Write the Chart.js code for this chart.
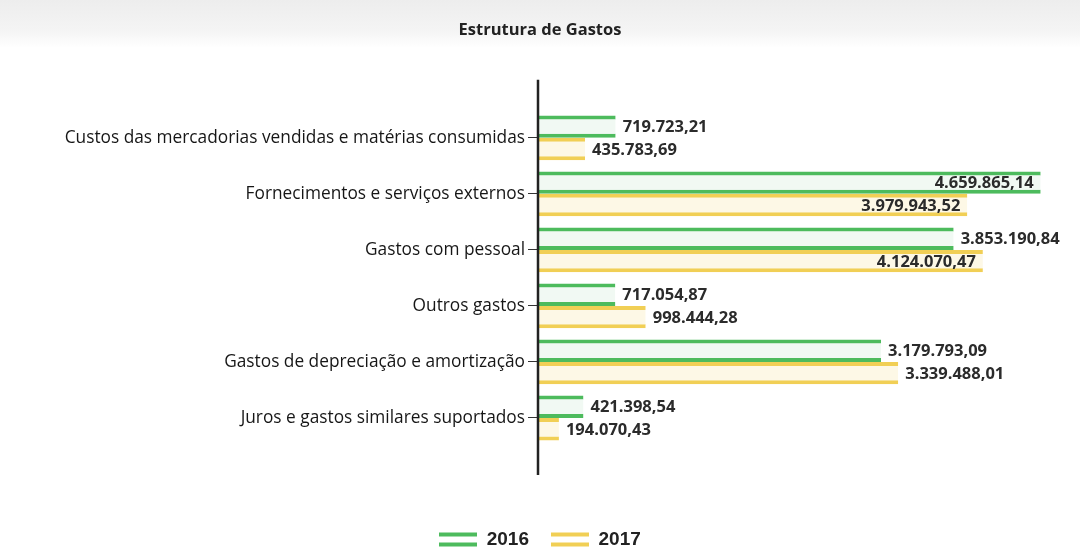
<!DOCTYPE html>
<html>
<head>
<meta charset="utf-8">
<script src="https://cdn.jsdelivr.net/npm/chart.js@4.4.1/dist/chart.umd.min.js"></script>
<style>
  body { margin: 0; background: linear-gradient(#ededed 0px, #f4f4f4 30px, #ffffff 48px); }
  #wrap { width: 1080px; height: 549px; position: relative; }
</style>
</head>
<body>
<div id="wrap"><canvas id="chart"></canvas></div>
<script>
// categories and series
const categories = [
    "Custos das mercadorias vendidas e matérias consumidas",
    "Fornecimentos e serviços externos",
    "Gastos com pessoal",
    "Outros gastos",
    "Gastos de depreciação e amortização",
    "Juros e gastos similares suportados"
];
const seriesNames = ["2016", "2017"];
const values2016 = [719723.21, 4659865.14, 3853190.84, 717054.87, 3179793.09, 421398.54];
const values2017 = [435783.69, 3979943.52, 4124070.47, 998444.28, 3339488.01, 194070.43];
const xMax = 4700000;

const green = "#4dbb5d", greenPale = "#f1f9f3";
const yellow = "#f1cf55", yellowPale = "#fdf8e6";

// pt format: 1.234.567,89
function fmt(v) {
    const parts = v.toFixed(2).split(".");
    return parts[0].replace(/\B(?=(\d{3})+(?!\d))/g, ".") + "," + parts[1];
}

// two-stripe legend marker
function stripeMarker(color) {
    const c = document.createElement("canvas");
    c.width = 38; c.height = 16;
    const g = c.getContext("2d");
    g.fillStyle = color;
    g.fillRect(0, 1, 38, 4);
    g.fillRect(0, 11, 38, 4);
    return c;
}

// long y axis line like the original
const axisLine = {
    id: "axisLine",
    afterDraw(chart) {
        const { ctx, chartArea } = chart;
        ctx.save();
        ctx.strokeStyle = "#222";
        ctx.lineWidth = 2.5;
        ctx.beginPath();
        ctx.moveTo(chartArea.left, chartArea.top - 30);
        ctx.lineTo(chartArea.left, chartArea.bottom + 29);
        ctx.stroke();
        ctx.restore();
    }
};

// values at the bar ends
const valueLabels = {
    id: "valueLabels",
    afterDatasetsDraw(chart) {
        const ctx = chart.ctx;
        ctx.save();
        ctx.font = "bold 16.5px 'Open Sans'";
        ctx.fillStyle = "#2b2b2b";
        ctx.textBaseline = "middle";
        chart.data.datasets.forEach((ds, di) => {
            chart.getDatasetMeta(di).data.forEach((bar, i) => {
                const v = ds.data[i];
                const txt = fmt(v);
                if (v > 3900000) {
                    ctx.textAlign = "right";
                    ctx.fillText(txt, bar.x - 7, bar.y + 1);
                } else {
                    ctx.textAlign = "left";
                    ctx.fillText(txt, bar.x + 7, bar.y + 1);
                }
            });
        });
        ctx.restore();
    }
};

new Chart(document.getElementById("chart"), {
    type: "bar",
    data: {
        labels: categories,
        datasets: [{
            label: seriesNames[0],
            data: values2016,
            backgroundColor: greenPale,
            borderColor: green,
            borderWidth: { top: 4, bottom: 4, left: 0, right: 0 },
            borderSkipped: false,
            pointStyle: stripeMarker(green)
        }, {
            label: seriesNames[1],
            data: values2017,
            backgroundColor: yellowPale,
            borderColor: yellow,
            borderWidth: { top: 4, bottom: 4, left: 0, right: 0 },
            borderSkipped: false,
            pointStyle: stripeMarker(yellow)
        }]
    },
    options: {
        indexAxis: "y",
        responsive: true,
        maintainAspectRatio: false,
        animation: false,
        layout: { padding: { left: 35, right: 35, top: 0, bottom: -10 } },
        datasets: { bar: { categoryPercentage: 0.8, barPercentage: 1.0 } },
        plugins: {
            title: {
                display: true,
                text: "Estrutura de Gastos",
                color: "#222",
                font: { family: "'Open Sans'", size: 16.5, weight: "bold" },
                padding: { top: 20, bottom: 70 }
            },
            legend: {
                position: "bottom",
                labels: {
                    usePointStyle: true,
                    pointStyleWidth: 38,
                    color: "#222",
                    padding: 22,
                    font: { family: "'Liberation Sans'", size: 19, weight: "bold" }
                }
            },
            tooltip: { enabled: false }
        },
        scales: {
            x: {
                min: 0,
                max: xMax,
                ticks: { display: false },
                grid: { display: false },
                border: { display: false },
                afterFit: s => { s.height = 62; }
            },
            y: {
                grid: { display: true, drawOnChartArea: false, offset: false, tickLength: 10, color: "#333", lineWidth: 1 },
                border: { display: false },
                ticks: {
                    color: "#161616",
                    padding: 3,
                    font: { family: "'Open Sans'", size: 17.3 }
                },
                afterFit: s => { s.width = 503; }
            }
        }
    },
    plugins: [axisLine, valueLabels]
});
</script>
</body>
</html>
